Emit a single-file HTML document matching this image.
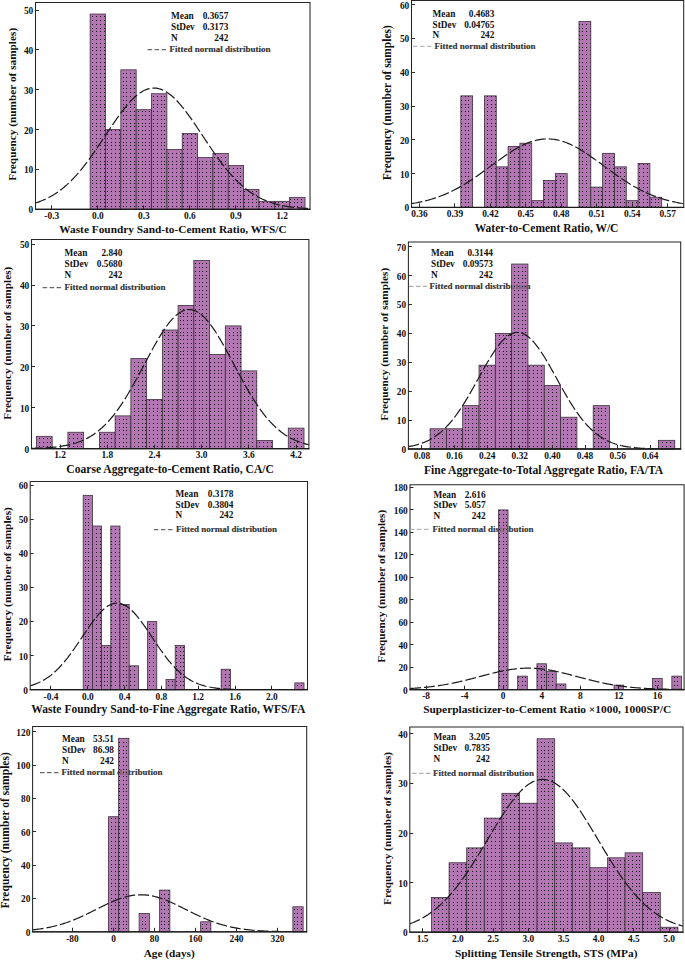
<!DOCTYPE html>
<html><head><meta charset="utf-8"><style>
html,body{margin:0;padding:0;background:#fff;width:685px;height:960px;overflow:hidden}
svg{display:block}
text{font-family:"Liberation Serif",serif;font-weight:bold;fill:#111}
.tl{font-size:9.4px}
.lg{font-size:9.3px}
.lf{font-size:9px;fill:#3a3a3a}
.xl{font-size:11.3px}
.bar{fill:url(#dots);stroke:#3c303c;stroke-width:0.8}
.cur{fill:none;stroke:#1a1a1a;stroke-width:1.2;stroke-dasharray:11 3}
.frm{fill:none;stroke:#262626;stroke-width:1.05}
.ax{stroke:#1a1a1a;stroke-width:1.3}
.tk{stroke:#2a2a2a;stroke-width:1}
.ld{stroke-width:1;stroke-dasharray:4.5 2.5}
</style></head><body>
<svg width="685" height="960" viewBox="0 0 685 960">
<defs><pattern id="dots" patternUnits="userSpaceOnUse" width="19" height="19" x="0" y="0">
<rect width="19" height="19" fill="#b277b2"/><g fill="#161016"><rect x="1" y="1" width="1" height="1"/><rect x="1" y="5" width="1" height="1"/><rect x="1" y="9" width="1" height="1"/><rect x="1" y="12" width="1" height="1"/><rect x="1" y="16" width="1" height="1"/><rect x="5" y="1" width="1" height="1"/><rect x="5" y="5" width="1" height="1"/><rect x="5" y="9" width="1" height="1"/><rect x="5" y="12" width="1" height="1"/><rect x="5" y="16" width="1" height="1"/><rect x="9" y="1" width="1" height="1"/><rect x="9" y="5" width="1" height="1"/><rect x="9" y="9" width="1" height="1"/><rect x="9" y="12" width="1" height="1"/><rect x="9" y="16" width="1" height="1"/><rect x="12" y="1" width="1" height="1"/><rect x="12" y="5" width="1" height="1"/><rect x="12" y="9" width="1" height="1"/><rect x="12" y="12" width="1" height="1"/><rect x="12" y="16" width="1" height="1"/><rect x="16" y="1" width="1" height="1"/><rect x="16" y="5" width="1" height="1"/><rect x="16" y="9" width="1" height="1"/><rect x="16" y="12" width="1" height="1"/><rect x="16" y="16" width="1" height="1"/></g></pattern>
<clipPath id="c0"><rect x="35.50" y="2.40" width="274.50" height="206.90"/></clipPath><clipPath id="c1"><rect x="411.50" y="0.50" width="272.20" height="206.90"/></clipPath><clipPath id="c2"><rect x="31.50" y="239.40" width="277.40" height="209.20"/></clipPath><clipPath id="c3"><rect x="408.40" y="242.00" width="272.30" height="207.00"/></clipPath><clipPath id="c4"><rect x="30.20" y="481.50" width="277.30" height="208.20"/></clipPath><clipPath id="c5"><rect x="410.00" y="484.70" width="274.10" height="204.90"/></clipPath><clipPath id="c6"><rect x="32.60" y="726.50" width="274.10" height="205.30"/></clipPath><clipPath id="c7"><rect x="409.80" y="727.00" width="273.20" height="205.20"/></clipPath>
</defs>
<g><text class="lf" x="169.60" y="52.30">Fitted normal distribution</text><rect x="90.12" y="14.04" width="15.35" height="195.26" class="bar"/><rect x="105.47" y="129.60" width="15.35" height="79.70" class="bar"/><rect x="120.83" y="69.83" width="15.35" height="139.47" class="bar"/><rect x="136.18" y="109.68" width="15.35" height="99.62" class="bar"/><rect x="151.53" y="93.74" width="15.35" height="115.56" class="bar"/><rect x="166.88" y="149.53" width="15.35" height="59.78" class="bar"/><rect x="182.23" y="133.59" width="15.35" height="75.72" class="bar"/><rect x="197.57" y="157.50" width="15.35" height="51.81" class="bar"/><rect x="212.93" y="153.51" width="15.35" height="55.79" class="bar"/><rect x="228.27" y="165.47" width="15.35" height="43.84" class="bar"/><rect x="243.62" y="189.38" width="15.35" height="19.93" class="bar"/><rect x="258.98" y="201.33" width="15.35" height="7.97" class="bar"/><rect x="274.33" y="201.33" width="15.35" height="7.97" class="bar"/><rect x="289.68" y="197.34" width="15.35" height="11.96" class="bar"/><polyline class="cur" points="35.50,202.99 36.87,202.55 38.24,202.08 39.62,201.58 40.99,201.06 42.36,200.51 43.73,199.92 45.11,199.31 46.48,198.66 47.85,197.99 49.22,197.28 50.60,196.53 51.97,195.75 53.34,194.93 54.71,194.08 56.09,193.18 57.46,192.25 58.83,191.28 60.21,190.27 61.58,189.21 62.95,188.12 64.32,186.98 65.69,185.81 67.07,184.59 68.44,183.32 69.81,182.02 71.19,180.67 72.56,179.27 73.93,177.84 75.30,176.36 76.67,174.84 78.05,173.28 79.42,171.68 80.79,170.04 82.16,168.36 83.54,166.64 84.91,164.88 86.28,163.09 87.66,161.26 89.03,159.41 90.40,157.52 91.77,155.60 93.14,153.66 94.52,151.69 95.89,149.70 97.26,147.68 98.63,145.66 100.01,143.61 101.38,141.56 102.75,139.49 104.12,137.43 105.50,135.35 106.87,133.28 108.24,131.21 109.61,129.15 110.99,127.11 112.36,125.07 113.73,123.05 115.11,121.06 116.48,119.09 117.85,117.15 119.22,115.24 120.59,113.37 121.97,111.54 123.34,109.76 124.71,108.02 126.08,106.34 127.46,104.70 128.83,103.13 130.20,101.62 131.57,100.18 132.95,98.80 134.32,97.49 135.69,96.26 137.06,95.11 138.44,94.03 139.81,93.04 141.18,92.14 142.56,91.31 143.93,90.58 145.30,89.94 146.67,89.39 148.04,88.93 149.42,88.57 150.79,88.30 152.16,88.13 153.53,88.05 154.91,88.07 156.28,88.19 157.65,88.40 159.03,88.71 160.40,89.11 161.77,89.61 163.14,90.20 164.51,90.88 165.89,91.65 167.26,92.50 168.63,93.45 170.00,94.47 171.38,95.58 172.75,96.77 174.12,98.03 175.50,99.37 176.87,100.77 178.24,102.24 179.61,103.78 180.99,105.38 182.36,107.03 183.73,108.74 185.10,110.50 186.48,112.30 187.85,114.15 189.22,116.04 190.59,117.96 191.97,119.91 193.34,121.89 194.71,123.89 196.08,125.92 197.45,127.96 198.83,130.01 200.20,132.08 201.57,134.15 202.94,136.22 204.32,138.29 205.69,140.36 207.06,142.42 208.44,144.47 209.81,146.50 211.18,148.53 212.55,150.53 213.92,152.51 215.30,154.47 216.67,156.40 218.04,158.31 219.41,160.19 220.79,162.03 222.16,163.84 223.53,165.62 224.91,167.36 226.28,169.06 227.65,170.73 229.02,172.35 230.39,173.94 231.77,175.48 233.14,176.98 234.51,178.44 235.88,179.86 237.26,181.23 238.63,182.57 240.00,183.85 241.38,185.10 242.75,186.30 244.12,187.46 245.49,188.58 246.87,189.66 248.24,190.69 249.61,191.69 250.98,192.64 252.36,193.56 253.73,194.44 255.10,195.28 256.47,196.08 257.84,196.85 259.22,197.58 260.59,198.27 261.96,198.94 263.33,199.57 264.71,200.17 266.08,200.74 267.45,201.28 268.82,201.79 270.20,202.28 271.57,202.74 272.94,203.17 274.31,203.58 275.69,203.97 277.06,204.33 278.43,204.68 279.81,205.00 281.18,205.30 282.55,205.59 283.92,205.86 285.29,206.11 286.67,206.34 288.04,206.56 289.41,206.77 290.78,206.96 292.16,207.14 293.53,207.31 294.90,207.46 296.27,207.61 297.65,207.74 299.02,207.86 300.39,207.98 301.76,208.09 303.14,208.19 304.51,208.28 305.88,208.37 307.25,208.45 308.63,208.52 310.00,208.59" clip-path="url(#c0)"/><path class="frm" d="M35.50 209.30V2.40H310.00V209.30Z"/><line class="ax" x1="35.00" y1="209.30" x2="310.50" y2="209.30"/><text class="tl" x="33.30" y="213.20" text-anchor="end">0</text><line class="tk" x1="35.50" y1="169.50" x2="39.00" y2="169.50"/><text class="tl" x="33.30" y="173.35" text-anchor="end">10</text><line class="tk" x1="35.50" y1="129.50" x2="39.00" y2="129.50"/><text class="tl" x="33.30" y="133.50" text-anchor="end">20</text><line class="tk" x1="35.50" y1="89.50" x2="39.00" y2="89.50"/><text class="tl" x="33.30" y="93.65" text-anchor="end">30</text><line class="tk" x1="35.50" y1="49.50" x2="39.00" y2="49.50"/><text class="tl" x="33.30" y="53.80" text-anchor="end">40</text><line class="tk" x1="35.50" y1="10.50" x2="39.00" y2="10.50"/><text class="tl" x="33.30" y="13.95" text-anchor="end">50</text><line class="tk" x1="51.50" y1="209.30" x2="51.50" y2="205.30"/><text class="tl" x="51.75" y="219.10" text-anchor="middle">-0.3</text><line class="tk" x1="97.50" y1="209.30" x2="97.50" y2="205.30"/><text class="tl" x="97.80" y="219.10" text-anchor="middle">0.0</text><line class="tk" x1="143.50" y1="209.30" x2="143.50" y2="205.30"/><text class="tl" x="143.85" y="219.10" text-anchor="middle">0.3</text><line class="tk" x1="189.50" y1="209.30" x2="189.50" y2="205.30"/><text class="tl" x="189.90" y="219.10" text-anchor="middle">0.6</text><line class="tk" x1="235.50" y1="209.30" x2="235.50" y2="205.30"/><text class="tl" x="235.95" y="219.10" text-anchor="middle">0.9</text><line class="tk" x1="282.50" y1="209.30" x2="282.50" y2="205.30"/><text class="tl" x="282.00" y="219.10" text-anchor="middle">1.2</text><text class="lg" x="171.00" y="18.90">Mean</text><text class="lg" x="228.30" y="18.90" text-anchor="end">0.3657</text><text class="lg" x="171.00" y="29.90">StDev</text><text class="lg" x="228.30" y="29.90" text-anchor="end">0.3173</text><text class="lg" x="171.00" y="40.60">N</text><text class="lg" x="228.30" y="40.60" text-anchor="end">242</text><line class="ld" stroke="#444" x1="147.60" y1="49.70" x2="166.00" y2="49.70"/><text class="lf" opacity="0.45" x="169.60" y="52.30">Fitted normal distribution</text><text class="xl" style="font-size:11.33px" x="59.35" y="233.30">Waste Foundry Sand-to-Cement Ratio, WFS/C</text><text class="xl" style="font-size:11.3px" transform="translate(16.15 180.85) rotate(-90)">Frequency (number of samples)</text></g><g><text class="lf" x="434.60" y="48.90">Fitted normal distribution</text><rect x="460.81" y="95.86" width="11.82" height="111.54" class="bar"/><rect x="484.45" y="95.86" width="11.82" height="111.54" class="bar"/><rect x="496.27" y="166.84" width="11.82" height="40.56" class="bar"/><rect x="508.08" y="146.56" width="11.82" height="60.84" class="bar"/><rect x="519.90" y="143.18" width="11.82" height="64.22" class="bar"/><rect x="531.72" y="200.64" width="11.82" height="6.76" class="bar"/><rect x="543.54" y="180.36" width="11.82" height="27.04" class="bar"/><rect x="555.36" y="173.60" width="11.82" height="33.80" class="bar"/><rect x="578.99" y="21.50" width="11.82" height="185.90" class="bar"/><rect x="590.81" y="187.12" width="11.82" height="20.28" class="bar"/><rect x="602.63" y="153.32" width="11.82" height="54.08" class="bar"/><rect x="614.45" y="166.84" width="11.82" height="40.56" class="bar"/><rect x="626.26" y="200.64" width="11.82" height="6.76" class="bar"/><rect x="638.08" y="163.46" width="11.82" height="43.94" class="bar"/><rect x="649.90" y="197.26" width="11.82" height="10.14" class="bar"/><polyline class="cur" points="411.50,203.68 412.86,203.46 414.22,203.23 415.58,202.98 416.94,202.73 418.30,202.46 419.67,202.18 421.03,201.89 422.39,201.58 423.75,201.26 425.11,200.93 426.47,200.58 427.83,200.22 429.19,199.85 430.55,199.46 431.91,199.05 433.28,198.63 434.64,198.19 436.00,197.74 437.36,197.26 438.72,196.78 440.08,196.27 441.44,195.75 442.80,195.21 444.16,194.66 445.52,194.08 446.89,193.49 448.25,192.88 449.61,192.26 450.97,191.61 452.33,190.95 453.69,190.27 455.05,189.57 456.41,188.85 457.77,188.12 459.13,187.37 460.50,186.60 461.86,185.82 463.22,185.02 464.58,184.20 465.94,183.37 467.30,182.52 468.66,181.66 470.02,180.78 471.38,179.89 472.75,178.98 474.11,178.07 475.47,177.14 476.83,176.20 478.19,175.25 479.55,174.29 480.91,173.32 482.27,172.34 483.63,171.36 484.99,170.37 486.36,169.37 487.72,168.37 489.08,167.37 490.44,166.37 491.80,165.37 493.16,164.36 494.52,163.36 495.88,162.36 497.24,161.37 498.60,160.38 499.96,159.40 501.33,158.42 502.69,157.46 504.05,156.51 505.41,155.56 506.77,154.64 508.13,153.72 509.49,152.83 510.85,151.95 512.21,151.09 513.57,150.24 514.94,149.42 516.30,148.63 517.66,147.85 519.02,147.11 520.38,146.38 521.74,145.69 523.10,145.02 524.46,144.39 525.82,143.78 527.18,143.21 528.55,142.66 529.91,142.16 531.27,141.68 532.63,141.24 533.99,140.84 535.35,140.48 536.71,140.15 538.07,139.86 539.43,139.61 540.80,139.39 542.16,139.22 543.52,139.08 544.88,138.99 546.24,138.93 547.60,138.92 548.96,138.94 550.32,139.01 551.68,139.11 553.04,139.26 554.40,139.44 555.77,139.66 557.13,139.92 558.49,140.22 559.85,140.56 561.21,140.94 562.57,141.35 563.93,141.79 565.29,142.28 566.65,142.79 568.01,143.34 569.38,143.92 570.74,144.54 572.10,145.18 573.46,145.85 574.82,146.55 576.18,147.28 577.54,148.04 578.90,148.82 580.26,149.62 581.62,150.44 582.99,151.29 584.35,152.16 585.71,153.04 587.07,153.94 588.43,154.86 589.79,155.79 591.15,156.73 592.51,157.69 593.87,158.66 595.24,159.63 596.60,160.62 597.96,161.61 599.32,162.60 600.68,163.60 602.04,164.60 603.40,165.61 604.76,166.61 606.12,167.61 607.48,168.61 608.85,169.61 610.21,170.61 611.57,171.59 612.93,172.58 614.29,173.55 615.65,174.52 617.01,175.48 618.37,176.42 619.73,177.36 621.09,178.29 622.46,179.20 623.82,180.10 625.18,180.99 626.54,181.87 627.90,182.73 629.26,183.57 630.62,184.40 631.98,185.21 633.34,186.01 634.70,186.79 636.07,187.55 637.43,188.30 638.79,189.03 640.15,189.74 641.51,190.43 642.87,191.11 644.23,191.77 645.59,192.41 646.95,193.03 648.31,193.64 649.68,194.22 651.04,194.79 652.40,195.34 653.76,195.88 655.12,196.40 656.48,196.90 657.84,197.38 659.20,197.85 660.56,198.30 661.92,198.73 663.28,199.15 664.65,199.55 666.01,199.94 667.37,200.31 668.73,200.67 670.09,201.01 671.45,201.34 672.81,201.66 674.17,201.96 675.53,202.25 676.90,202.53 678.26,202.79 679.62,203.04 680.98,203.28 682.34,203.51 683.70,203.73" clip-path="url(#c1)"/><path class="frm" d="M411.50 207.40V0.50H683.70V207.40Z"/><line class="ax" x1="411.00" y1="207.40" x2="684.20" y2="207.40"/><text class="tl" x="409.30" y="211.30" text-anchor="end">0</text><line class="tk" x1="411.50" y1="173.50" x2="415.00" y2="173.50"/><text class="tl" x="409.30" y="177.50" text-anchor="end">10</text><line class="tk" x1="411.50" y1="139.50" x2="415.00" y2="139.50"/><text class="tl" x="409.30" y="143.70" text-anchor="end">20</text><line class="tk" x1="411.50" y1="106.50" x2="415.00" y2="106.50"/><text class="tl" x="409.30" y="109.90" text-anchor="end">30</text><line class="tk" x1="411.50" y1="72.50" x2="415.00" y2="72.50"/><text class="tl" x="409.30" y="76.10" text-anchor="end">40</text><line class="tk" x1="411.50" y1="38.50" x2="415.00" y2="38.50"/><text class="tl" x="409.30" y="42.30" text-anchor="end">50</text><line class="tk" x1="411.50" y1="4.50" x2="415.00" y2="4.50"/><text class="tl" x="409.30" y="8.50" text-anchor="end">60</text><line class="tk" x1="419.50" y1="207.40" x2="419.50" y2="203.40"/><text class="tl" x="419.45" y="217.20" text-anchor="middle">0.36</text><line class="tk" x1="454.50" y1="207.40" x2="454.50" y2="203.40"/><text class="tl" x="454.90" y="217.20" text-anchor="middle">0.39</text><line class="tk" x1="490.50" y1="207.40" x2="490.50" y2="203.40"/><text class="tl" x="490.36" y="217.20" text-anchor="middle">0.42</text><line class="tk" x1="525.50" y1="207.40" x2="525.50" y2="203.40"/><text class="tl" x="525.81" y="217.20" text-anchor="middle">0.45</text><line class="tk" x1="561.50" y1="207.40" x2="561.50" y2="203.40"/><text class="tl" x="561.26" y="217.20" text-anchor="middle">0.48</text><line class="tk" x1="596.50" y1="207.40" x2="596.50" y2="203.40"/><text class="tl" x="596.72" y="217.20" text-anchor="middle">0.51</text><line class="tk" x1="632.50" y1="207.40" x2="632.50" y2="203.40"/><text class="tl" x="632.17" y="217.20" text-anchor="middle">0.54</text><line class="tk" x1="667.50" y1="207.40" x2="667.50" y2="203.40"/><text class="tl" x="667.63" y="217.20" text-anchor="middle">0.57</text><text class="lg" x="432.60" y="16.90">Mean</text><text class="lg" x="494.40" y="16.90" text-anchor="end">0.4683</text><text class="lg" x="432.60" y="27.50">StDev</text><text class="lg" x="494.40" y="27.50" text-anchor="end">0.04765</text><text class="lg" x="432.60" y="38.30">N</text><text class="lg" x="494.40" y="38.30" text-anchor="end">242</text><line class="ld" stroke="#a8a8a8" x1="413.00" y1="46.30" x2="431.40" y2="46.30"/><text class="lf" opacity="0.45" x="434.60" y="48.90">Fitted normal distribution</text><text class="xl" style="font-size:11.47px" x="474.75" y="232.00">Water-to-Cement Ratio, W/C</text><text class="xl" style="font-size:11.45px" transform="translate(391.20 180.20) rotate(-90)">Frequency (number of samples)</text></g><g><text class="lf" x="64.60" y="290.30">Fitted normal distribution</text><rect x="36.43" y="436.33" width="15.74" height="12.27" class="bar"/><rect x="67.91" y="432.24" width="15.74" height="16.36" class="bar"/><rect x="99.39" y="432.24" width="15.74" height="16.36" class="bar"/><rect x="115.13" y="415.88" width="15.74" height="32.72" class="bar"/><rect x="130.87" y="358.62" width="15.74" height="89.98" class="bar"/><rect x="146.61" y="399.52" width="15.74" height="49.08" class="bar"/><rect x="162.35" y="329.99" width="15.74" height="118.61" class="bar"/><rect x="178.09" y="305.45" width="15.74" height="143.15" class="bar"/><rect x="193.83" y="260.46" width="15.74" height="188.14" class="bar"/><rect x="209.57" y="354.53" width="15.74" height="94.07" class="bar"/><rect x="225.31" y="325.90" width="15.74" height="122.70" class="bar"/><rect x="241.05" y="370.89" width="15.74" height="77.71" class="bar"/><rect x="256.79" y="440.42" width="15.74" height="8.18" class="bar"/><rect x="288.27" y="428.15" width="15.74" height="20.45" class="bar"/><polyline class="cur" points="31.50,448.32 32.89,448.29 34.27,448.25 35.66,448.22 37.05,448.17 38.44,448.13 39.82,448.07 41.21,448.02 42.60,447.95 43.98,447.88 45.37,447.81 46.76,447.73 48.14,447.64 49.53,447.54 50.92,447.43 52.30,447.31 53.69,447.19 55.08,447.05 56.47,446.90 57.85,446.73 59.24,446.56 60.63,446.36 62.01,446.16 63.40,445.93 64.79,445.69 66.18,445.43 67.56,445.15 68.95,444.85 70.34,444.52 71.72,444.18 73.11,443.80 74.50,443.40 75.88,442.98 77.27,442.52 78.66,442.03 80.05,441.51 81.43,440.96 82.82,440.37 84.21,439.74 85.59,439.08 86.98,438.37 88.37,437.63 89.75,436.84 91.14,436.01 92.53,435.13 93.91,434.20 95.30,433.22 96.69,432.20 98.08,431.12 99.46,429.99 100.85,428.80 102.24,427.56 103.62,426.26 105.01,424.91 106.40,423.50 107.78,422.03 109.17,420.50 110.56,418.91 111.95,417.26 113.33,415.55 114.72,413.78 116.11,411.96 117.49,410.07 118.88,408.12 120.27,406.12 121.65,404.07 123.04,401.95 124.43,399.79 125.82,397.57 127.20,395.31 128.59,392.99 129.98,390.63 131.36,388.23 132.75,385.80 134.14,383.32 135.53,380.82 136.91,378.28 138.30,375.72 139.69,373.14 141.07,370.55 142.46,367.94 143.85,365.33 145.23,362.71 146.62,360.10 148.01,357.49 149.40,354.90 150.78,352.33 152.17,349.78 153.56,347.26 154.94,344.78 156.33,342.34 157.72,339.95 159.10,337.61 160.49,335.32 161.88,333.11 163.26,330.96 164.65,328.89 166.04,326.90 167.43,324.99 168.81,323.18 170.20,321.46 171.59,319.84 172.97,318.33 174.36,316.93 175.75,315.64 177.13,314.46 178.52,313.41 179.91,312.48 181.30,311.67 182.68,310.99 184.07,310.44 185.46,310.03 186.84,309.74 188.23,309.59 189.62,309.57 191.00,309.69 192.39,309.94 193.78,310.32 195.17,310.83 196.55,311.48 197.94,312.25 199.33,313.15 200.71,314.17 202.10,315.31 203.49,316.57 204.87,317.95 206.26,319.43 207.65,321.02 209.04,322.71 210.42,324.50 211.81,326.39 213.20,328.35 214.58,330.40 215.97,332.53 217.36,334.73 218.74,337.00 220.13,339.32 221.52,341.70 222.91,344.13 224.29,346.60 225.68,349.11 227.07,351.65 228.45,354.22 229.84,356.80 231.23,359.41 232.61,362.02 234.00,364.63 235.39,367.25 236.78,369.86 238.16,372.46 239.55,375.04 240.94,377.61 242.32,380.15 243.71,382.66 245.10,385.15 246.48,387.59 247.87,390.00 249.26,392.37 250.65,394.70 252.03,396.98 253.42,399.21 254.81,401.39 256.19,403.51 257.58,405.58 258.97,407.60 260.36,409.56 261.74,411.46 263.13,413.30 264.52,415.09 265.90,416.81 267.29,418.48 268.68,420.08 270.06,421.63 271.45,423.11 272.84,424.54 274.23,425.91 275.61,427.22 277.00,428.48 278.39,429.68 279.77,430.82 281.16,431.92 282.55,432.96 283.93,433.95 285.32,434.89 286.71,435.78 288.10,436.62 289.48,437.42 290.87,438.18 292.26,438.90 293.64,439.57 295.03,440.21 296.42,440.81 297.80,441.37 299.19,441.90 300.58,442.39 301.97,442.86 303.35,443.29 304.74,443.70 306.13,444.08 307.51,444.44 308.90,444.77" clip-path="url(#c2)"/><path class="frm" d="M31.50 448.60V239.40H308.90V448.60Z"/><line class="ax" x1="31.00" y1="448.60" x2="309.40" y2="448.60"/><text class="tl" x="29.30" y="452.50" text-anchor="end">0</text><line class="tk" x1="31.50" y1="407.50" x2="35.00" y2="407.50"/><text class="tl" x="29.30" y="411.60" text-anchor="end">10</text><line class="tk" x1="31.50" y1="366.50" x2="35.00" y2="366.50"/><text class="tl" x="29.30" y="370.70" text-anchor="end">20</text><line class="tk" x1="31.50" y1="325.50" x2="35.00" y2="325.50"/><text class="tl" x="29.30" y="329.80" text-anchor="end">30</text><line class="tk" x1="31.50" y1="285.50" x2="35.00" y2="285.50"/><text class="tl" x="29.30" y="288.90" text-anchor="end">40</text><line class="tk" x1="31.50" y1="244.50" x2="35.00" y2="244.50"/><text class="tl" x="29.30" y="248.00" text-anchor="end">50</text><line class="tk" x1="60.50" y1="448.60" x2="60.50" y2="444.60"/><text class="tl" x="60.04" y="458.40" text-anchor="middle">1.2</text><line class="tk" x1="107.50" y1="448.60" x2="107.50" y2="444.60"/><text class="tl" x="107.26" y="458.40" text-anchor="middle">1.8</text><line class="tk" x1="154.50" y1="448.60" x2="154.50" y2="444.60"/><text class="tl" x="154.48" y="458.40" text-anchor="middle">2.4</text><line class="tk" x1="201.50" y1="448.60" x2="201.50" y2="444.60"/><text class="tl" x="201.70" y="458.40" text-anchor="middle">3.0</text><line class="tk" x1="248.50" y1="448.60" x2="248.50" y2="444.60"/><text class="tl" x="248.92" y="458.40" text-anchor="middle">3.6</text><line class="tk" x1="296.50" y1="448.60" x2="296.50" y2="444.60"/><text class="tl" x="296.14" y="458.40" text-anchor="middle">4.2</text><text class="lg" x="64.60" y="256.30">Mean</text><text class="lg" x="122.40" y="256.30" text-anchor="end">2.840</text><text class="lg" x="64.60" y="267.30">StDev</text><text class="lg" x="122.40" y="267.30" text-anchor="end">0.5680</text><text class="lg" x="64.60" y="278.30">N</text><text class="lg" x="122.40" y="278.30" text-anchor="end">242</text><line class="ld" stroke="#444" x1="42.60" y1="287.70" x2="61.40" y2="287.70"/><text class="lf" opacity="0.45" x="64.60" y="290.30">Fitted normal distribution</text><text class="xl" style="font-size:11.58px" x="66.34" y="473.20">Coarse Aggregate-to-Cement Ratio, CA/C</text><text class="xl" style="font-size:11.3px" transform="translate(11.00 419.65) rotate(-90)">Frequency (number of samples)</text></g><g><text class="lf" x="429.60" y="288.90">Fitted normal distribution</text><rect x="430.08" y="428.77" width="16.31" height="20.23" class="bar"/><rect x="446.39" y="428.77" width="16.31" height="20.23" class="bar"/><rect x="462.70" y="405.65" width="16.31" height="43.35" class="bar"/><rect x="479.02" y="365.19" width="16.31" height="83.81" class="bar"/><rect x="495.33" y="333.40" width="16.31" height="115.60" class="bar"/><rect x="511.64" y="264.04" width="16.31" height="184.96" class="bar"/><rect x="527.95" y="365.19" width="16.31" height="83.81" class="bar"/><rect x="544.26" y="385.42" width="16.31" height="63.58" class="bar"/><rect x="560.58" y="417.21" width="16.31" height="31.79" class="bar"/><rect x="593.20" y="405.65" width="16.31" height="43.35" class="bar"/><rect x="658.45" y="440.33" width="16.31" height="8.67" class="bar"/><polyline class="cur" points="408.40,446.65 409.76,446.42 411.12,446.16 412.48,445.87 413.85,445.57 415.21,445.24 416.57,444.88 417.93,444.50 419.29,444.08 420.65,443.63 422.01,443.15 423.38,442.63 424.74,442.08 426.10,441.48 427.46,440.85 428.82,440.17 430.18,439.45 431.55,438.68 432.91,437.86 434.27,437.00 435.63,436.08 436.99,435.11 438.35,434.08 439.71,433.00 441.08,431.85 442.44,430.65 443.80,429.39 445.16,428.07 446.52,426.69 447.88,425.24 449.25,423.73 450.61,422.16 451.97,420.52 453.33,418.82 454.69,417.06 456.05,415.24 457.41,413.35 458.78,411.41 460.14,409.41 461.50,407.35 462.86,405.24 464.22,403.08 465.58,400.87 466.94,398.62 468.31,396.32 469.67,393.99 471.03,391.62 472.39,389.22 473.75,386.80 475.11,384.36 476.47,381.91 477.84,379.44 479.20,376.98 480.56,374.51 481.92,372.06 483.28,369.62 484.64,367.21 486.01,364.82 487.37,362.47 488.73,360.16 490.09,357.91 491.45,355.70 492.81,353.56 494.17,351.49 495.54,349.50 496.90,347.59 498.26,345.77 499.62,344.04 500.98,342.41 502.34,340.89 503.70,339.49 505.07,338.19 506.43,337.02 507.79,335.98 509.15,335.06 510.51,334.28 511.87,333.63 513.24,333.11 514.60,332.74 515.96,332.51 517.32,332.42 518.68,332.47 520.04,332.66 521.40,332.99 522.77,333.47 524.13,334.08 525.49,334.83 526.85,335.71 528.21,336.71 529.57,337.85 530.93,339.11 532.30,340.48 533.66,341.97 535.02,343.57 536.38,345.27 537.74,347.07 539.10,348.95 540.47,350.92 541.83,352.97 543.19,355.09 544.55,357.28 545.91,359.52 547.27,361.82 548.63,364.15 550.00,366.53 551.36,368.94 552.72,371.37 554.08,373.82 555.44,376.28 556.80,378.75 558.16,381.21 559.53,383.67 560.89,386.11 562.25,388.54 563.61,390.94 564.97,393.32 566.33,395.66 567.70,397.97 569.06,400.24 570.42,402.46 571.78,404.64 573.14,406.76 574.50,408.83 575.86,410.85 577.23,412.81 578.59,414.71 579.95,416.55 581.31,418.33 582.67,420.05 584.03,421.70 585.39,423.29 586.76,424.82 588.12,426.28 589.48,427.69 590.84,429.02 592.20,430.30 593.56,431.52 594.93,432.68 596.29,433.78 597.65,434.82 599.01,435.81 600.37,436.74 601.73,437.62 603.09,438.46 604.46,439.24 605.82,439.97 607.18,440.66 608.54,441.31 609.90,441.91 611.26,442.48 612.62,443.01 613.99,443.50 615.35,443.96 616.71,444.38 618.07,444.77 619.43,445.14 620.79,445.48 622.16,445.79 623.52,446.08 624.88,446.34 626.24,446.59 627.60,446.81 628.96,447.02 630.32,447.21 631.69,447.38 633.05,447.54 634.41,447.68 635.77,447.81 637.13,447.93 638.49,448.04 639.86,448.14 641.22,448.23 642.58,448.31 643.94,448.38 645.30,448.45 646.66,448.51 648.02,448.56 649.39,448.61 650.75,448.66 652.11,448.69 653.47,448.73 654.83,448.76 656.19,448.79 657.55,448.81 658.92,448.83 660.28,448.85 661.64,448.87 663.00,448.89 664.36,448.90 665.72,448.91 667.09,448.92 668.45,448.93 669.81,448.94 671.17,448.95 672.53,448.96 673.89,448.96 675.25,448.97 676.62,448.97 677.98,448.98 679.34,448.98 680.70,448.98" clip-path="url(#c3)"/><path class="frm" d="M408.40 449.00V242.00H680.70V449.00Z"/><line class="ax" x1="407.90" y1="449.00" x2="681.20" y2="449.00"/><text class="tl" x="406.20" y="452.90" text-anchor="end">0</text><line class="tk" x1="408.40" y1="420.50" x2="411.90" y2="420.50"/><text class="tl" x="406.20" y="424.00" text-anchor="end">10</text><line class="tk" x1="408.40" y1="391.50" x2="411.90" y2="391.50"/><text class="tl" x="406.20" y="395.10" text-anchor="end">20</text><line class="tk" x1="408.40" y1="362.50" x2="411.90" y2="362.50"/><text class="tl" x="406.20" y="366.20" text-anchor="end">30</text><line class="tk" x1="408.40" y1="333.50" x2="411.90" y2="333.50"/><text class="tl" x="406.20" y="337.30" text-anchor="end">40</text><line class="tk" x1="408.40" y1="304.50" x2="411.90" y2="304.50"/><text class="tl" x="406.20" y="308.40" text-anchor="end">50</text><line class="tk" x1="408.40" y1="275.50" x2="411.90" y2="275.50"/><text class="tl" x="406.20" y="279.50" text-anchor="end">60</text><line class="tk" x1="408.40" y1="246.50" x2="411.90" y2="246.50"/><text class="tl" x="406.20" y="250.60" text-anchor="end">70</text><line class="tk" x1="421.50" y1="449.00" x2="421.50" y2="445.00"/><text class="tl" x="421.92" y="458.80" text-anchor="middle">0.08</text><line class="tk" x1="454.50" y1="449.00" x2="454.50" y2="445.00"/><text class="tl" x="454.55" y="458.80" text-anchor="middle">0.16</text><line class="tk" x1="487.50" y1="449.00" x2="487.50" y2="445.00"/><text class="tl" x="487.17" y="458.80" text-anchor="middle">0.24</text><line class="tk" x1="519.50" y1="449.00" x2="519.50" y2="445.00"/><text class="tl" x="519.80" y="458.80" text-anchor="middle">0.32</text><line class="tk" x1="552.50" y1="449.00" x2="552.50" y2="445.00"/><text class="tl" x="552.42" y="458.80" text-anchor="middle">0.40</text><line class="tk" x1="585.50" y1="449.00" x2="585.50" y2="445.00"/><text class="tl" x="585.04" y="458.80" text-anchor="middle">0.48</text><line class="tk" x1="617.50" y1="449.00" x2="617.50" y2="445.00"/><text class="tl" x="617.67" y="458.80" text-anchor="middle">0.56</text><line class="tk" x1="650.50" y1="449.00" x2="650.50" y2="445.00"/><text class="tl" x="650.29" y="458.80" text-anchor="middle">0.64</text><text class="lg" x="431.00" y="256.30">Mean</text><text class="lg" x="493.00" y="256.30" text-anchor="end">0.3144</text><text class="lg" x="431.00" y="266.90">StDev</text><text class="lg" x="493.00" y="266.90" text-anchor="end">0.09573</text><text class="lg" x="431.00" y="277.50">N</text><text class="lg" x="493.00" y="277.50" text-anchor="end">242</text><line class="ld" stroke="#9a9a9a" x1="409.00" y1="286.30" x2="427.00" y2="286.30"/><text class="lf" opacity="0.45" x="429.60" y="288.90">Fitted normal distribution</text><text class="xl" style="font-size:11.6px" x="423.95" y="474.00">Fine Aggregate-to-Total Aggregate Ratio, FA/TA</text><text class="xl" style="font-size:11.3px" transform="translate(387.70 420.75) rotate(-90)">Frequency (number of samples)</text></g><g><text class="lf" x="176.00" y="532.30">Fitted normal distribution</text><rect x="83.20" y="495.33" width="9.20" height="194.37" class="bar"/><rect x="92.40" y="526.02" width="9.20" height="163.68" class="bar"/><rect x="101.60" y="645.37" width="9.20" height="44.33" class="bar"/><rect x="110.80" y="526.02" width="9.20" height="163.68" class="bar"/><rect x="120.00" y="604.45" width="9.20" height="85.25" class="bar"/><rect x="129.20" y="665.83" width="9.20" height="23.87" class="bar"/><rect x="147.60" y="621.50" width="9.20" height="68.20" class="bar"/><rect x="166.00" y="679.47" width="9.20" height="10.23" class="bar"/><rect x="175.20" y="645.37" width="9.20" height="44.33" class="bar"/><rect x="221.20" y="669.24" width="9.20" height="20.46" class="bar"/><rect x="294.80" y="682.88" width="9.20" height="6.82" class="bar"/><polyline class="cur" points="30.20,685.72 31.59,685.31 32.97,684.87 34.36,684.39 35.75,683.87 37.13,683.31 38.52,682.71 39.91,682.07 41.29,681.38 42.68,680.64 44.06,679.86 45.45,679.02 46.84,678.12 48.22,677.18 49.61,676.17 51.00,675.11 52.38,673.99 53.77,672.81 55.16,671.57 56.54,670.27 57.93,668.91 59.32,667.49 60.70,666.01 62.09,664.47 63.48,662.87 64.86,661.22 66.25,659.51 67.64,657.75 69.02,655.93 70.41,654.08 71.80,652.17 73.18,650.23 74.57,648.26 75.95,646.25 77.34,644.22 78.73,642.16 80.11,640.10 81.50,638.02 82.89,635.94 84.27,633.86 85.66,631.80 87.05,629.75 88.43,627.73 89.82,625.74 91.21,623.79 92.59,621.89 93.98,620.04 95.37,618.26 96.75,616.54 98.14,614.90 99.52,613.34 100.91,611.87 102.30,610.50 103.68,609.23 105.07,608.07 106.46,607.02 107.84,606.09 109.23,605.28 110.62,604.60 112.00,604.05 113.39,603.62 114.78,603.34 116.16,603.18 117.55,603.16 118.94,603.28 120.32,603.54 121.71,603.92 123.10,604.44 124.48,605.09 125.87,605.87 127.25,606.77 128.64,607.78 130.03,608.92 131.41,610.16 132.80,611.50 134.19,612.95 135.57,614.48 136.96,616.10 138.35,617.80 139.73,619.57 141.12,621.40 142.51,623.29 143.89,625.23 145.28,627.21 146.67,629.22 148.05,631.26 149.44,633.32 150.83,635.40 152.21,637.47 153.60,639.55 154.99,641.62 156.37,643.68 157.76,645.72 159.14,647.73 160.53,649.72 161.92,651.67 163.30,653.58 164.69,655.45 166.08,657.28 167.46,659.05 168.85,660.77 170.24,662.44 171.62,664.06 173.01,665.61 174.40,667.11 175.78,668.55 177.17,669.92 178.56,671.24 179.94,672.49 181.33,673.69 182.72,674.82 184.10,675.90 185.49,676.92 186.87,677.88 188.26,678.79 189.65,679.64 191.03,680.44 192.42,681.19 193.81,681.90 195.19,682.55 196.58,683.16 197.97,683.73 199.35,684.26 200.74,684.74 202.13,685.20 203.51,685.61 204.90,686.00 206.29,686.35 207.67,686.67 209.06,686.97 210.44,687.24 211.83,687.49 213.22,687.72 214.60,687.92 215.99,688.11 217.38,688.28 218.76,688.43 220.15,688.57 221.54,688.70 222.92,688.81 224.31,688.91 225.70,689.00 227.08,689.08 228.47,689.16 229.86,689.22 231.24,689.28 232.63,689.33 234.02,689.38 235.40,689.42 236.79,689.45 238.18,689.48 239.56,689.51 240.95,689.54 242.33,689.56 243.72,689.58 245.11,689.59 246.49,689.61 247.88,689.62 249.27,689.63 250.65,689.64 252.04,689.65 253.43,689.66 254.81,689.66 256.20,689.67 257.59,689.67 258.97,689.68 260.36,689.68 261.75,689.68 263.13,689.69 264.52,689.69 265.90,689.69 267.29,689.69 268.68,689.69 270.06,689.69 271.45,689.69 272.84,689.70 274.22,689.70 275.61,689.70 277.00,689.70 278.38,689.70 279.77,689.70 281.16,689.70 282.54,689.70 283.93,689.70 285.32,689.70 286.70,689.70 288.09,689.70 289.48,689.70 290.86,689.70 292.25,689.70 293.63,689.70 295.02,689.70 296.41,689.70 297.79,689.70 299.18,689.70 300.57,689.70 301.95,689.70 303.34,689.70 304.73,689.70 306.11,689.70 307.50,689.70" clip-path="url(#c4)"/><path class="frm" d="M30.20 689.70V481.50H307.50V689.70Z"/><line class="ax" x1="29.70" y1="689.70" x2="308.00" y2="689.70"/><text class="tl" x="28.00" y="693.60" text-anchor="end">0</text><line class="tk" x1="30.20" y1="655.50" x2="33.70" y2="655.50"/><text class="tl" x="28.00" y="659.50" text-anchor="end">10</text><line class="tk" x1="30.20" y1="621.50" x2="33.70" y2="621.50"/><text class="tl" x="28.00" y="625.40" text-anchor="end">20</text><line class="tk" x1="30.20" y1="587.50" x2="33.70" y2="587.50"/><text class="tl" x="28.00" y="591.30" text-anchor="end">30</text><line class="tk" x1="30.20" y1="553.50" x2="33.70" y2="553.50"/><text class="tl" x="28.00" y="557.20" text-anchor="end">40</text><line class="tk" x1="30.20" y1="519.50" x2="33.70" y2="519.50"/><text class="tl" x="28.00" y="523.10" text-anchor="end">50</text><line class="tk" x1="30.20" y1="485.50" x2="33.70" y2="485.50"/><text class="tl" x="28.00" y="489.00" text-anchor="end">60</text><line class="tk" x1="50.50" y1="689.70" x2="50.50" y2="685.70"/><text class="tl" x="51.00" y="699.50" text-anchor="middle">-0.4</text><line class="tk" x1="87.50" y1="689.70" x2="87.50" y2="685.70"/><text class="tl" x="87.80" y="699.50" text-anchor="middle">0.0</text><line class="tk" x1="124.50" y1="689.70" x2="124.50" y2="685.70"/><text class="tl" x="124.60" y="699.50" text-anchor="middle">0.4</text><line class="tk" x1="161.50" y1="689.70" x2="161.50" y2="685.70"/><text class="tl" x="161.40" y="699.50" text-anchor="middle">0.8</text><line class="tk" x1="198.50" y1="689.70" x2="198.50" y2="685.70"/><text class="tl" x="198.20" y="699.50" text-anchor="middle">1.2</text><line class="tk" x1="235.50" y1="689.70" x2="235.50" y2="685.70"/><text class="tl" x="235.00" y="699.50" text-anchor="middle">1.6</text><line class="tk" x1="271.50" y1="689.70" x2="271.50" y2="685.70"/><text class="tl" x="271.80" y="699.50" text-anchor="middle">2.0</text><text class="lg" x="175.60" y="496.90">Mean</text><text class="lg" x="233.40" y="496.90" text-anchor="end">0.3178</text><text class="lg" x="175.60" y="507.50">StDev</text><text class="lg" x="233.40" y="507.50" text-anchor="end">0.3804</text><text class="lg" x="175.60" y="518.30">N</text><text class="lg" x="233.40" y="518.30" text-anchor="end">242</text><line class="ld" stroke="#444" x1="154.00" y1="529.70" x2="174.00" y2="529.70"/><text class="lf" opacity="0.45" x="176.00" y="532.30">Fitted normal distribution</text><text class="xl" style="font-size:11.55px" x="31.35" y="713.40">Waste Foundry Sand-to-Fine Aggregate Ratio, WFS/FA</text><text class="xl" style="font-size:11.4px" transform="translate(10.60 661.40) rotate(-90)">Frequency (number of samples)</text></g><g><text class="lf" x="432.40" y="531.90">Fitted normal distribution</text><rect x="498.38" y="509.92" width="9.64" height="179.68" class="bar"/><rect x="517.66" y="676.12" width="9.64" height="13.48" class="bar"/><rect x="536.93" y="663.77" width="9.64" height="25.83" class="bar"/><rect x="546.57" y="671.63" width="9.64" height="17.97" class="bar"/><rect x="556.20" y="683.99" width="9.64" height="5.62" class="bar"/><rect x="614.03" y="685.11" width="9.64" height="4.49" class="bar"/><rect x="652.57" y="678.37" width="9.64" height="11.23" class="bar"/><rect x="671.85" y="676.12" width="9.64" height="13.48" class="bar"/><polyline class="cur" points="410.00,688.48 411.37,688.40 412.74,688.32 414.11,688.23 415.48,688.14 416.85,688.04 418.22,687.94 419.59,687.83 420.96,687.71 422.33,687.59 423.70,687.47 425.08,687.34 426.45,687.20 427.82,687.05 429.19,686.90 430.56,686.74 431.93,686.58 433.30,686.41 434.67,686.23 436.04,686.04 437.41,685.85 438.78,685.65 440.15,685.44 441.52,685.23 442.89,685.00 444.26,684.77 445.63,684.53 447.00,684.29 448.37,684.03 449.74,683.77 451.12,683.51 452.49,683.23 453.86,682.95 455.23,682.66 456.60,682.36 457.97,682.06 459.34,681.75 460.71,681.43 462.08,681.11 463.45,680.78 464.82,680.45 466.19,680.11 467.56,679.77 468.93,679.42 470.30,679.07 471.67,678.71 473.04,678.36 474.41,678.00 475.78,677.63 477.15,677.27 478.52,676.90 479.90,676.54 481.27,676.17 482.64,675.81 484.01,675.44 485.38,675.08 486.75,674.72 488.12,674.37 489.49,674.01 490.86,673.67 492.23,673.32 493.60,672.99 494.97,672.66 496.34,672.33 497.71,672.02 499.08,671.71 500.45,671.41 501.82,671.13 503.19,670.85 504.56,670.58 505.94,670.32 507.31,670.08 508.68,669.85 510.05,669.63 511.42,669.43 512.79,669.23 514.16,669.06 515.53,668.90 516.90,668.75 518.27,668.62 519.64,668.51 521.01,668.41 522.38,668.32 523.75,668.26 525.12,668.21 526.49,668.18 527.86,668.16 529.23,668.16 530.60,668.18 531.97,668.22 533.35,668.27 534.72,668.34 536.09,668.42 537.46,668.53 538.83,668.64 540.20,668.78 541.57,668.93 542.94,669.09 544.31,669.27 545.68,669.47 547.05,669.67 548.42,669.89 549.79,670.13 551.16,670.37 552.53,670.63 553.90,670.90 555.27,671.18 556.64,671.47 558.01,671.77 559.38,672.08 560.75,672.40 562.13,672.72 563.50,673.06 564.87,673.39 566.24,673.74 567.61,674.09 568.98,674.44 570.35,674.80 571.72,675.15 573.09,675.52 574.46,675.88 575.83,676.25 577.20,676.61 578.57,676.98 579.94,677.34 581.31,677.71 582.68,678.07 584.05,678.43 585.42,678.79 586.79,679.14 588.16,679.49 589.54,679.84 590.91,680.18 592.28,680.52 593.65,680.85 595.02,681.17 596.39,681.50 597.76,681.81 599.13,682.12 600.50,682.42 601.87,682.72 603.24,683.00 604.61,683.29 605.98,683.56 607.35,683.83 608.72,684.09 610.09,684.34 611.46,684.58 612.83,684.82 614.20,685.05 615.58,685.27 616.95,685.48 618.32,685.69 619.69,685.89 621.06,686.08 622.43,686.27 623.80,686.44 625.17,686.61 626.54,686.78 627.91,686.93 629.28,687.08 630.65,687.23 632.02,687.36 633.39,687.49 634.76,687.62 636.13,687.74 637.50,687.85 638.87,687.96 640.24,688.06 641.61,688.16 642.99,688.25 644.36,688.33 645.73,688.42 647.10,688.50 648.47,688.57 649.84,688.64 651.21,688.70 652.58,688.77 653.95,688.82 655.32,688.88 656.69,688.93 658.06,688.98 659.43,689.02 660.80,689.06 662.17,689.10 663.54,689.14 664.91,689.18 666.28,689.21 667.65,689.24 669.02,689.27 670.39,689.29 671.77,689.32 673.14,689.34 674.51,689.36 675.88,689.38 677.25,689.40 678.62,689.41 679.99,689.43 681.36,689.44 682.73,689.46 684.10,689.47" clip-path="url(#c5)"/><path class="frm" d="M410.00 689.60V484.70H684.10V689.60Z"/><line class="ax" x1="409.50" y1="689.60" x2="684.60" y2="689.60"/><text class="tl" x="407.80" y="693.50" text-anchor="end">0</text><line class="tk" x1="410.00" y1="667.50" x2="413.50" y2="667.50"/><text class="tl" x="407.80" y="671.04" text-anchor="end">20</text><line class="tk" x1="410.00" y1="644.50" x2="413.50" y2="644.50"/><text class="tl" x="407.80" y="648.58" text-anchor="end">40</text><line class="tk" x1="410.00" y1="622.50" x2="413.50" y2="622.50"/><text class="tl" x="407.80" y="626.12" text-anchor="end">60</text><line class="tk" x1="410.00" y1="599.50" x2="413.50" y2="599.50"/><text class="tl" x="407.80" y="603.66" text-anchor="end">80</text><line class="tk" x1="410.00" y1="577.50" x2="413.50" y2="577.50"/><text class="tl" x="407.80" y="581.20" text-anchor="end">100</text><line class="tk" x1="410.00" y1="554.50" x2="413.50" y2="554.50"/><text class="tl" x="407.80" y="558.74" text-anchor="end">120</text><line class="tk" x1="410.00" y1="532.50" x2="413.50" y2="532.50"/><text class="tl" x="407.80" y="536.28" text-anchor="end">140</text><line class="tk" x1="410.00" y1="509.50" x2="413.50" y2="509.50"/><text class="tl" x="407.80" y="513.82" text-anchor="end">160</text><line class="tk" x1="410.00" y1="487.50" x2="413.50" y2="487.50"/><text class="tl" x="407.80" y="491.36" text-anchor="end">180</text><line class="tk" x1="426.50" y1="689.60" x2="426.50" y2="685.60"/><text class="tl" x="426.10" y="699.40" text-anchor="middle">-8</text><line class="tk" x1="464.50" y1="689.60" x2="464.50" y2="685.60"/><text class="tl" x="464.65" y="699.40" text-anchor="middle">-4</text><line class="tk" x1="503.50" y1="689.60" x2="503.50" y2="685.60"/><text class="tl" x="503.20" y="699.40" text-anchor="middle">0</text><line class="tk" x1="541.50" y1="689.60" x2="541.50" y2="685.60"/><text class="tl" x="541.75" y="699.40" text-anchor="middle">4</text><line class="tk" x1="580.50" y1="689.60" x2="580.50" y2="685.60"/><text class="tl" x="580.30" y="699.40" text-anchor="middle">8</text><line class="tk" x1="618.50" y1="689.60" x2="618.50" y2="685.60"/><text class="tl" x="618.84" y="699.40" text-anchor="middle">12</text><line class="tk" x1="657.50" y1="689.60" x2="657.50" y2="685.60"/><text class="tl" x="657.39" y="699.40" text-anchor="middle">16</text><text class="lg" x="433.40" y="497.50">Mean</text><text class="lg" x="485.60" y="497.50" text-anchor="end">2.616</text><text class="lg" x="433.40" y="508.30">StDev</text><text class="lg" x="485.60" y="508.30" text-anchor="end">5.057</text><text class="lg" x="433.40" y="518.90">N</text><text class="lg" x="485.60" y="518.90" text-anchor="end">242</text><line class="ld" stroke="#a8a8a8" x1="410.00" y1="529.30" x2="430.00" y2="529.30"/><text class="lf" opacity="0.45" x="432.40" y="531.90">Fitted normal distribution</text><text class="xl" style="font-size:11.38px" x="423.14" y="713.10">Superplasticizer-to-Cement Ratio ×1000, 1000SP/C</text><text class="xl" style="font-size:11.3px" transform="translate(385.20 662.75) rotate(-90)">Frequency (number of samples)</text></g><g><text class="lf" x="61.60" y="775.30">Fitted normal distribution</text><rect x="108.38" y="816.71" width="10.25" height="115.09" class="bar"/><rect x="118.62" y="738.31" width="10.25" height="193.49" class="bar"/><rect x="139.12" y="913.45" width="10.25" height="18.35" class="bar"/><rect x="159.62" y="890.10" width="10.25" height="41.70" class="bar"/><rect x="200.62" y="921.79" width="10.25" height="10.01" class="bar"/><rect x="292.88" y="906.78" width="10.25" height="25.02" class="bar"/><polyline class="cur" points="32.60,929.87 33.97,929.72 35.34,929.56 36.71,929.39 38.08,929.21 39.45,929.02 40.82,928.82 42.19,928.61 43.56,928.39 44.93,928.16 46.31,927.91 47.68,927.65 49.05,927.37 50.42,927.09 51.79,926.78 53.16,926.47 54.53,926.14 55.90,925.79 57.27,925.44 58.64,925.06 60.01,924.67 61.38,924.26 62.75,923.84 64.12,923.41 65.49,922.95 66.86,922.49 68.23,922.00 69.60,921.50 70.97,920.99 72.34,920.46 73.72,919.92 75.09,919.36 76.46,918.79 77.83,918.20 79.20,917.60 80.57,916.99 81.94,916.37 83.31,915.74 84.68,915.10 86.05,914.44 87.42,913.78 88.79,913.11 90.16,912.44 91.53,911.76 92.90,911.07 94.27,910.39 95.64,909.70 97.01,909.01 98.38,908.32 99.75,907.63 101.12,906.94 102.50,906.26 103.87,905.59 105.24,904.92 106.61,904.27 107.98,903.62 109.35,902.99 110.72,902.37 112.09,901.76 113.46,901.17 114.83,900.60 116.20,900.05 117.57,899.52 118.94,899.01 120.31,898.53 121.68,898.07 123.05,897.63 124.42,897.22 125.79,896.84 127.16,896.49 128.53,896.17 129.91,895.89 131.28,895.63 132.65,895.40 134.02,895.21 135.39,895.06 136.76,894.93 138.13,894.84 139.50,894.79 140.87,894.77 142.24,894.79 143.61,894.84 144.98,894.92 146.35,895.05 147.72,895.20 149.09,895.39 150.46,895.61 151.83,895.86 153.20,896.15 154.57,896.47 155.94,896.82 157.32,897.19 158.69,897.60 160.06,898.03 161.43,898.49 162.80,898.97 164.17,899.48 165.54,900.01 166.91,900.56 168.28,901.13 169.65,901.71 171.02,902.32 172.39,902.94 173.76,903.57 175.13,904.22 176.50,904.87 177.87,905.54 179.24,906.21 180.61,906.89 181.98,907.57 183.36,908.26 184.73,908.95 186.10,909.64 187.47,910.33 188.84,911.02 190.21,911.70 191.58,912.38 192.95,913.06 194.32,913.73 195.69,914.39 197.06,915.04 198.43,915.69 199.80,916.32 201.17,916.94 202.54,917.56 203.91,918.16 205.28,918.74 206.65,919.31 208.02,919.87 209.39,920.42 210.76,920.95 212.14,921.46 213.51,921.96 214.88,922.45 216.25,922.92 217.62,923.37 218.99,923.81 220.36,924.23 221.73,924.64 223.10,925.03 224.47,925.41 225.84,925.77 227.21,926.11 228.58,926.44 229.95,926.76 231.32,927.06 232.69,927.35 234.06,927.63 235.43,927.89 236.80,928.14 238.17,928.37 239.55,928.60 240.92,928.81 242.29,929.01 243.66,929.20 245.03,929.38 246.40,929.55 247.77,929.71 249.14,929.86 250.51,930.00 251.88,930.13 253.25,930.25 254.62,930.37 255.99,930.48 257.36,930.58 258.73,930.67 260.10,930.76 261.47,930.84 262.84,930.92 264.21,930.99 265.58,931.06 266.96,931.12 268.33,931.18 269.70,931.23 271.07,931.28 272.44,931.32 273.81,931.36 275.18,931.40 276.55,931.44 277.92,931.47 279.29,931.50 280.66,931.53 282.03,931.55 283.40,931.58 284.77,931.60 286.14,931.62 287.51,931.63 288.88,931.65 290.25,931.66 291.62,931.68 293.00,931.69 294.37,931.70 295.74,931.71 297.11,931.72 298.48,931.73 299.85,931.74 301.22,931.74 302.59,931.75 303.96,931.75 305.33,931.76 306.70,931.76" clip-path="url(#c6)"/><path class="frm" d="M32.60 931.80V726.50H306.70V931.80Z"/><line class="ax" x1="32.10" y1="931.80" x2="307.20" y2="931.80"/><text class="tl" x="30.40" y="935.70" text-anchor="end">0</text><line class="tk" x1="32.60" y1="898.50" x2="36.10" y2="898.50"/><text class="tl" x="30.40" y="902.34" text-anchor="end">20</text><line class="tk" x1="32.60" y1="865.50" x2="36.10" y2="865.50"/><text class="tl" x="30.40" y="868.98" text-anchor="end">40</text><line class="tk" x1="32.60" y1="831.50" x2="36.10" y2="831.50"/><text class="tl" x="30.40" y="835.62" text-anchor="end">60</text><line class="tk" x1="32.60" y1="798.50" x2="36.10" y2="798.50"/><text class="tl" x="30.40" y="802.26" text-anchor="end">80</text><line class="tk" x1="32.60" y1="765.50" x2="36.10" y2="765.50"/><text class="tl" x="30.40" y="768.90" text-anchor="end">100</text><line class="tk" x1="32.60" y1="731.50" x2="36.10" y2="731.50"/><text class="tl" x="30.40" y="735.54" text-anchor="end">120</text><line class="tk" x1="72.50" y1="931.80" x2="72.50" y2="927.80"/><text class="tl" x="72.50" y="941.60" text-anchor="middle">-80</text><line class="tk" x1="113.50" y1="931.80" x2="113.50" y2="927.80"/><text class="tl" x="113.50" y="941.60" text-anchor="middle">0</text><line class="tk" x1="154.50" y1="931.80" x2="154.50" y2="927.80"/><text class="tl" x="154.50" y="941.60" text-anchor="middle">80</text><line class="tk" x1="195.50" y1="931.80" x2="195.50" y2="927.80"/><text class="tl" x="195.50" y="941.60" text-anchor="middle">160</text><line class="tk" x1="236.50" y1="931.80" x2="236.50" y2="927.80"/><text class="tl" x="236.50" y="941.60" text-anchor="middle">240</text><line class="tk" x1="277.50" y1="931.80" x2="277.50" y2="927.80"/><text class="tl" x="277.50" y="941.60" text-anchor="middle">320</text><text class="lg" x="62.00" y="742.30">Mean</text><text class="lg" x="114.00" y="742.30" text-anchor="end">53.51</text><text class="lg" x="62.00" y="752.90">StDev</text><text class="lg" x="114.00" y="752.90" text-anchor="end">86.98</text><text class="lg" x="62.00" y="763.50">N</text><text class="lg" x="114.00" y="763.50" text-anchor="end">242</text><line class="ld" stroke="#444" x1="40.00" y1="772.70" x2="59.00" y2="772.70"/><text class="lf" opacity="0.45" x="61.60" y="775.30">Fitted normal distribution</text><text class="xl" style="font-size:11.25px" x="143.73" y="956.60">Age (days)</text><text class="xl" style="font-size:11.55px" transform="translate(9.10 908.60) rotate(-90)">Frequency (number of samples)</text></g><g><text class="lf" x="433.00" y="775.90">Fitted normal distribution</text><rect x="431.50" y="897.48" width="17.60" height="34.72" class="bar"/><rect x="449.10" y="862.76" width="17.60" height="69.44" class="bar"/><rect x="466.70" y="847.88" width="17.60" height="84.32" class="bar"/><rect x="484.30" y="818.12" width="17.60" height="114.08" class="bar"/><rect x="501.90" y="793.32" width="17.60" height="138.88" class="bar"/><rect x="519.50" y="803.24" width="17.60" height="128.96" class="bar"/><rect x="537.10" y="738.76" width="17.60" height="193.44" class="bar"/><rect x="554.70" y="842.92" width="17.60" height="89.28" class="bar"/><rect x="572.30" y="847.88" width="17.60" height="84.32" class="bar"/><rect x="589.90" y="867.72" width="17.60" height="64.48" class="bar"/><rect x="607.50" y="857.80" width="17.60" height="74.40" class="bar"/><rect x="625.10" y="852.84" width="17.60" height="79.36" class="bar"/><rect x="642.70" y="892.52" width="17.60" height="39.68" class="bar"/><rect x="660.30" y="927.24" width="17.60" height="4.96" class="bar"/><polyline class="cur" points="409.80,923.83 411.17,923.31 412.53,922.78 413.90,922.21 415.26,921.62 416.63,921.00 418.00,920.35 419.36,919.67 420.73,918.96 422.09,918.22 423.46,917.45 424.83,916.64 426.19,915.80 427.56,914.93 428.92,914.02 430.29,913.07 431.66,912.08 433.02,911.06 434.39,910.00 435.75,908.90 437.12,907.76 438.49,906.59 439.85,905.37 441.22,904.11 442.58,902.81 443.95,901.46 445.32,900.08 446.68,898.65 448.05,897.19 449.41,895.68 450.78,894.12 452.15,892.53 453.51,890.90 454.88,889.22 456.24,887.51 457.61,885.75 458.98,883.96 460.34,882.12 461.71,880.25 463.07,878.35 464.44,876.40 465.81,874.42 467.17,872.41 468.54,870.37 469.90,868.29 471.27,866.19 472.64,864.06 474.00,861.90 475.37,859.72 476.73,857.52 478.10,855.29 479.47,853.05 480.83,850.80 482.20,848.53 483.56,846.25 484.93,843.96 486.30,841.67 487.66,839.38 489.03,837.08 490.39,834.79 491.76,832.51 493.13,830.23 494.49,827.96 495.86,825.71 497.22,823.48 498.59,821.27 499.96,819.09 501.32,816.93 502.69,814.80 504.05,812.71 505.42,810.65 506.79,808.64 508.15,806.67 509.52,804.74 510.88,802.87 512.25,801.04 513.62,799.28 514.98,797.57 516.35,795.92 517.71,794.34 519.08,792.83 520.45,791.38 521.81,790.01 523.18,788.71 524.54,787.49 525.91,786.35 527.28,785.29 528.64,784.31 530.01,783.42 531.37,782.61 532.74,781.89 534.11,781.26 535.47,780.72 536.84,780.28 538.20,779.92 539.57,779.66 540.94,779.49 542.30,779.41 543.67,779.43 545.03,779.54 546.40,779.74 547.77,780.04 549.13,780.43 550.50,780.91 551.86,781.49 553.23,782.15 554.60,782.90 555.96,783.74 557.33,784.66 558.69,785.67 560.06,786.76 561.43,787.93 562.79,789.18 564.16,790.51 565.52,791.91 566.89,793.38 568.26,794.92 569.62,796.52 570.99,798.19 572.35,799.92 573.72,801.71 575.09,803.55 576.45,805.45 577.82,807.39 579.18,809.38 580.55,811.41 581.92,813.48 583.28,815.59 584.65,817.73 586.01,819.89 587.38,822.09 588.75,824.31 590.11,826.55 591.48,828.80 592.84,831.07 594.21,833.35 595.58,835.64 596.94,837.93 598.31,840.23 599.67,842.52 601.04,844.81 602.41,847.10 603.77,849.37 605.14,851.63 606.50,853.88 607.87,856.12 609.24,858.33 610.60,860.53 611.97,862.70 613.33,864.85 614.70,866.97 616.07,869.06 617.43,871.13 618.80,873.16 620.16,875.16 621.53,877.13 622.90,879.06 624.26,880.95 625.63,882.81 626.99,884.63 628.36,886.41 629.73,888.15 631.09,889.85 632.46,891.51 633.82,893.13 635.19,894.70 636.56,896.24 637.92,897.73 639.29,899.19 640.65,900.60 642.02,901.96 643.39,903.29 644.75,904.58 646.12,905.82 647.48,907.03 648.85,908.19 650.22,909.31 651.58,910.40 652.95,911.45 654.31,912.45 655.68,913.42 657.05,914.36 658.41,915.26 659.78,916.12 661.14,916.95 662.51,917.74 663.88,918.50 665.24,919.23 666.61,919.93 667.97,920.60 669.34,921.23 670.71,921.84 672.07,922.42 673.44,922.98 674.80,923.51 676.17,924.01 677.54,924.49 678.90,924.94 680.27,925.38 681.63,925.79 683.00,926.18" clip-path="url(#c7)"/><path class="frm" d="M409.80 932.20V727.00H683.00V932.20Z"/><line class="ax" x1="409.30" y1="932.20" x2="683.50" y2="932.20"/><text class="tl" x="407.60" y="936.10" text-anchor="end">0</text><line class="tk" x1="409.80" y1="882.50" x2="413.30" y2="882.50"/><text class="tl" x="407.60" y="886.50" text-anchor="end">10</text><line class="tk" x1="409.80" y1="833.50" x2="413.30" y2="833.50"/><text class="tl" x="407.60" y="836.90" text-anchor="end">20</text><line class="tk" x1="409.80" y1="783.50" x2="413.30" y2="783.50"/><text class="tl" x="407.60" y="787.30" text-anchor="end">30</text><line class="tk" x1="409.80" y1="733.50" x2="413.30" y2="733.50"/><text class="tl" x="407.60" y="737.70" text-anchor="end">40</text><line class="tk" x1="422.50" y1="932.20" x2="422.50" y2="928.20"/><text class="tl" x="422.70" y="942.00" text-anchor="middle">1.5</text><line class="tk" x1="457.50" y1="932.20" x2="457.50" y2="928.20"/><text class="tl" x="457.90" y="942.00" text-anchor="middle">2.0</text><line class="tk" x1="493.50" y1="932.20" x2="493.50" y2="928.20"/><text class="tl" x="493.10" y="942.00" text-anchor="middle">2.5</text><line class="tk" x1="528.50" y1="932.20" x2="528.50" y2="928.20"/><text class="tl" x="528.30" y="942.00" text-anchor="middle">3.0</text><line class="tk" x1="563.50" y1="932.20" x2="563.50" y2="928.20"/><text class="tl" x="563.50" y="942.00" text-anchor="middle">3.5</text><line class="tk" x1="598.50" y1="932.20" x2="598.50" y2="928.20"/><text class="tl" x="598.70" y="942.00" text-anchor="middle">4.0</text><line class="tk" x1="633.50" y1="932.20" x2="633.50" y2="928.20"/><text class="tl" x="633.90" y="942.00" text-anchor="middle">4.5</text><line class="tk" x1="669.50" y1="932.20" x2="669.50" y2="928.20"/><text class="tl" x="669.10" y="942.00" text-anchor="middle">5.0</text><text class="lg" x="433.40" y="740.30">Mean</text><text class="lg" x="490.00" y="740.30" text-anchor="end">3.205</text><text class="lg" x="433.40" y="751.30">StDev</text><text class="lg" x="490.00" y="751.30" text-anchor="end">0.7835</text><text class="lg" x="433.40" y="761.90">N</text><text class="lg" x="490.00" y="761.90" text-anchor="end">242</text><line class="ld" stroke="#9a9a9a" x1="412.00" y1="773.30" x2="431.00" y2="773.30"/><text class="lf" opacity="0.45" x="433.00" y="775.90">Fitted normal distribution</text><text class="xl" style="font-size:11.36px" x="454.95" y="957.00">Splitting Tensile Strength, STS (MPa)</text><text class="xl" style="font-size:11.3px" transform="translate(390.60 904.95) rotate(-90)">Frequency (number of samples)</text></g>
</svg></body></html>
